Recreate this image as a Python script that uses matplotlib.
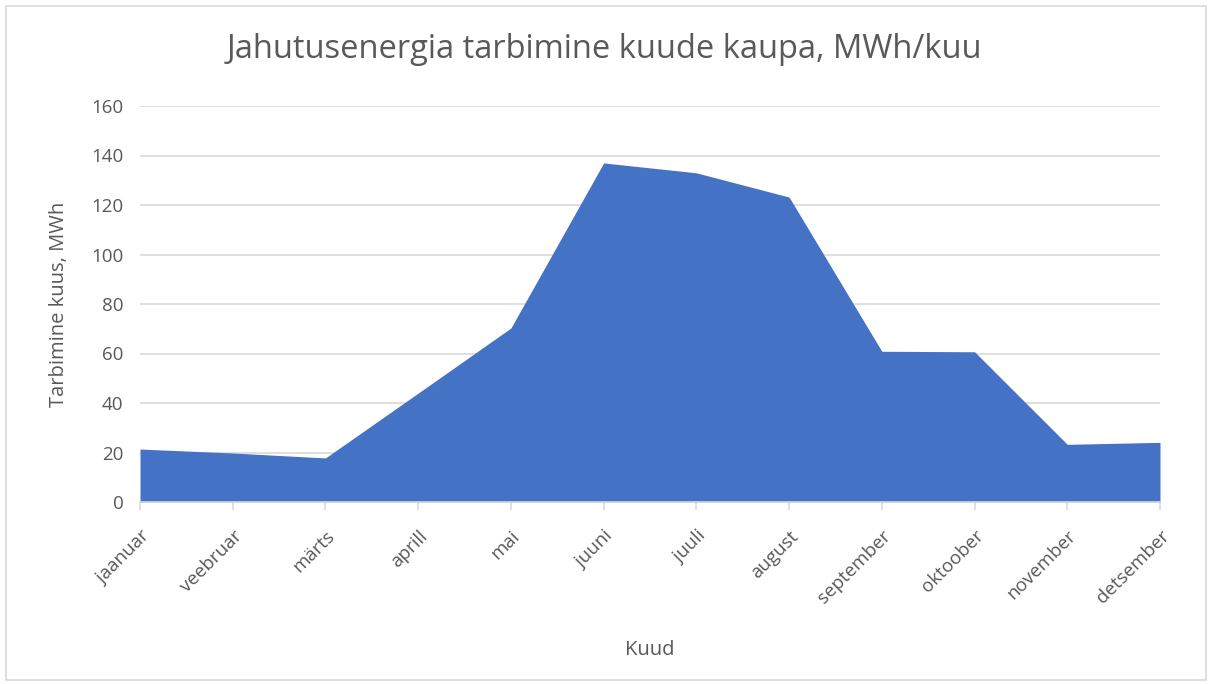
import matplotlib.pyplot as plt
import numpy as np

months = ["jaanuar", "veebruar", "märts", "aprill", "mai", "juuni", "juuli",
          "august", "september", "oktoober", "november", "detsember"]
consumption = [21.4, 19.8, 17.8, 44.0, 70.3, 137.0, 133.0, 123.2, 60.9, 60.7, 23.3, 24.1]
y_ticks = [0, 20, 40, 60, 80, 100, 120, 140, 160]

plt.rcParams['font.family'] = ['Open Sans', 'DejaVu Sans']
text_col = '#595959'
grid_col = '#D9D9D9'

fig = plt.figure(figsize=(12.09, 6.84), dpi=100)
ax = fig.add_axes([140/1209, 1 - 502/684, 1020/1209, 396/684])

x = np.arange(len(months))
ax.fill_between(x, consumption, 0, color='#4472C4', linewidth=0)

ax.set_xlim(0, len(months) - 1)
ax.set_ylim(0, 160)
ax.set_yticks(y_ticks)
ax.set_xticks(x)
ax.set_xticklabels(months, rotation=45, ha='right', rotation_mode='anchor')
ax.grid(axis='y', color=grid_col, linewidth=1.2)
ax.set_axisbelow(True)

for s in ['top', 'right', 'left']:
    ax.spines[s].set_visible(False)
ax.spines['bottom'].set_color(grid_col)
ax.spines['bottom'].set_linewidth(1.2)

ax.tick_params(axis='y', length=0, labelsize=13.5, labelcolor=text_col, pad=12)
ax.tick_params(axis='x', length=6, color=grid_col, width=1.2, labelsize=13.5,
               labelcolor=text_col, pad=12)

ax.set_xlabel("Kuud", fontsize=14.5, color=text_col, labelpad=24)
ax.set_ylabel("Tarbimine kuus, MWh", fontsize=14.5, color=text_col, labelpad=16)
fig.text(0.5, 1 - 50/684, "Jahutusenergia tarbimine kuude kaupa, MWh/kuu",
         ha='center', va='center', fontsize=23.5, color=text_col)

# chart border
fig.patches.append(plt.Rectangle((6/1209, 4/684), 1200/1209, 674/684, fill=False,
                                 edgecolor=grid_col, linewidth=1.2,
                                 transform=fig.transFigure))

fig.savefig("out.png", dpi=100)
